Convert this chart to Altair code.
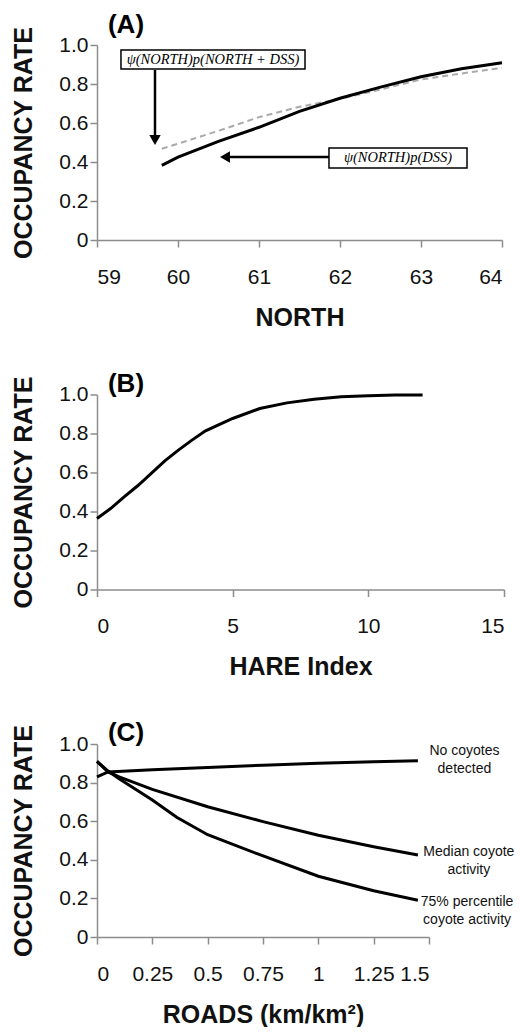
import altair as alt
import pandas as pd

FONT = "Liberation Sans"

# ---------------- data ----------------
# Panel A: NORTH
north_x = [59.8, 60.0, 60.5, 61.0, 61.5, 62.0, 62.5, 63.0, 63.5, 64.0]
north_psi_dss = [0.383, 0.425, 0.506, 0.578, 0.66, 0.727, 0.784, 0.837, 0.878, 0.909]
north_psi_north_dss = [0.468, 0.494, 0.56, 0.63, 0.683, 0.724, 0.772, 0.823, 0.854, 0.883]

box_labels = ["ψ(NORTH)p(NORTH + DSS)", "ψ(NORTH)p(DSS)"]
box_x = [59.296, 61.864]
box_x2 = [61.568, 63.568]
box_y = [0.974, 0.472]
box_y2 = [0.877, 0.369]

arrow_x = [59.716, 60.58]
arrow_x2 = [59.716, 61.864]
arrow_y = [0.872, 0.426]
arrow_y2 = [0.513, 0.426]
arrow_head = ["triangle-down", "triangle-left"]

# Panel B: HARE index
hare_x = [0, 0.5, 1, 1.5, 2, 2.5, 3, 3.5, 4, 5, 6, 7, 8, 9, 10, 11, 12]
hare_y = [0.364, 0.415, 0.475, 0.532, 0.595, 0.66, 0.715, 0.766, 0.814, 0.877,
          0.928, 0.957, 0.976, 0.988, 0.993, 0.997, 0.997]

# Panel C: ROADS
roads_none_x = [0, 0.05, 0.25, 0.5, 0.75, 1.0, 1.25, 1.45]
roads_none_y = [0.83, 0.855, 0.866, 0.878, 0.89, 0.9, 0.908, 0.913]
roads_med_x = [0, 0.05, 0.1, 0.25, 0.5, 0.75, 1.0, 1.25, 1.45]
roads_med_y = [0.91, 0.855, 0.83, 0.765, 0.675, 0.598, 0.527, 0.468, 0.425]
roads_p75_x = [0, 0.05, 0.1, 0.25, 0.36, 0.5, 0.72, 1.0, 1.25, 1.45]
roads_p75_y = [0.91, 0.86, 0.82, 0.71, 0.62, 0.53, 0.433, 0.315, 0.24, 0.19]

c_labels = ["No coyotes", "detected", "Median coyote", "activity",
            "75% percentile", "coyote activity"]
c_label_x = [1.66, 1.66, 1.68, 1.68, 1.672, 1.672]
c_label_y = [0.965, 0.872, 0.44, 0.347, 0.181, 0.087]

y_ticks = [0, 0.2, 0.4, 0.6, 0.8, 1.0]

Y_AXIS = alt.Axis(
    title="OCCUPANCY RATE",
    values=y_ticks,
    labelOverlap=False,
    labelExpr="datum.value == 0 ? '0' : format(datum.value, '.1f')",
)
SY = alt.Scale(domain=[0, 1], nice=False, zero=False)


def y_enc():
    return alt.Y("y:Q", scale=SY, axis=Y_AXIS)


def panel_label(txt, dy):
    return alt.Chart(pd.DataFrame({"t": [txt]})).mark_text(
        font=FONT, fontSize=26, fontWeight="bold", align="center",
        baseline="middle", color="black"
    ).encode(x=alt.value(29), y=alt.value(dy), text="t:N")


# ---------------- panel A ----------------
xa = alt.X("x:Q", scale=alt.Scale(domain=[59, 64], nice=False, zero=False),
           axis=alt.Axis(title="NORTH", values=[59, 60, 61, 62, 63, 64], format="d",
                         labelOverlap=False))
ya = y_enc()

df_dss = pd.DataFrame({"x": north_x, "y": north_psi_dss})
df_nd = pd.DataFrame({"x": north_x, "y": north_psi_north_dss})
df_box = pd.DataFrame({
    "label": box_labels, "x": box_x, "x2": box_x2, "y": box_y, "y2": box_y2,
})
df_box_text = pd.DataFrame({
    "label": box_labels,
    "x": [(a + b) / 2 for a, b in zip(box_x, box_x2)],
    "y": [(a + b) / 2 for a, b in zip(box_y, box_y2)],
})
df_arrow = pd.DataFrame({"x": arrow_x, "x2": arrow_x2, "y": arrow_y, "y2": arrow_y2})
df_head = pd.DataFrame({"x": arrow_x, "y": arrow_y2, "shape": arrow_head})

dashed = alt.Chart(df_nd).mark_line(color="#aaaaaa", strokeWidth=2, strokeDash=[6, 4]).encode(x=xa, y=ya)
solid = alt.Chart(df_dss).mark_line(color="black", strokeWidth=3).encode(x=xa, y=ya)
boxes = alt.Chart(df_box).mark_rect(fill="white", stroke="black", strokeWidth=1.5).encode(
    x=xa, y=ya, x2="x2:Q", y2="y2:Q")
box_text = alt.Chart(df_box_text).mark_text(
    font="Liberation Serif", fontStyle="italic", fontSize=14.5, color="black"
).encode(x=xa, y=ya, text="label:N")
arrows = alt.Chart(df_arrow).mark_rule(color="black", strokeWidth=2.5).encode(
    x=xa, y=ya, x2="x2:Q", y2="y2:Q")
heads = alt.Chart(df_head).mark_point(filled=True, color="black", size=130, opacity=1).encode(
    x=xa, y=ya, shape=alt.Shape("shape:N", scale=None))

panel_a = alt.layer(dashed, solid, arrows, heads, boxes, box_text,
                    panel_label("(A)", -20)).properties(width=405, height=195)

# ---------------- panel B ----------------
xb = alt.X("x:Q", scale=alt.Scale(domain=[0, 15], nice=False, zero=False),
           axis=alt.Axis(title="HARE Index", values=[0, 5, 10, 15], format="d",
                         labelOverlap=False))
df_hare = pd.DataFrame({"x": hare_x, "y": hare_y})
hare_line = alt.Chart(df_hare).mark_line(color="black", strokeWidth=3).encode(x=xb, y=y_enc())
panel_b = alt.layer(hare_line, panel_label("(B)", -11)).properties(width=407, height=195)

# ---------------- panel C ----------------
xc = alt.X("x:Q", scale=alt.Scale(domain=[0, 1.5], nice=False, zero=False),
           axis=alt.Axis(title="ROADS (km/km²)",
                         values=[0, 0.25, 0.5, 0.75, 1.0, 1.25, 1.5],
                         labelOverlap=False,
                         labelExpr="toString(datum.value)"))
yc = y_enc()
df_none = pd.DataFrame({"x": roads_none_x, "y": roads_none_y})
df_med = pd.DataFrame({"x": roads_med_x, "y": roads_med_y})
df_p75 = pd.DataFrame({"x": roads_p75_x, "y": roads_p75_y})
df_clab = pd.DataFrame({"label": c_labels, "x": c_label_x, "y": c_label_y})

l_none = alt.Chart(df_none).mark_line(color="black", strokeWidth=3).encode(x=xc, y=yc)
l_med = alt.Chart(df_med).mark_line(color="black", strokeWidth=3).encode(x=xc, y=yc)
l_p75 = alt.Chart(df_p75).mark_line(color="black", strokeWidth=3).encode(x=xc, y=yc)
c_text = alt.Chart(df_clab).mark_text(font=FONT, fontSize=14, color="#111", align="center",
                                      baseline="middle").encode(x=xc, y=yc, text="label:N")
panel_c = alt.layer(l_none, l_med, l_p75, c_text, panel_label("(C)", -11)).properties(
    width=332, height=193)

chart = alt.vconcat(panel_a, panel_b, panel_c, spacing=154.5, bounds="flush").properties(
    padding={"left": 11, "top": 12, "right": 0, "bottom": 0},
    background="white",
).configure_view(stroke=None).configure_axis(
    grid=False,
    domainColor="#8c8c8c", domainWidth=1.5,
    tickColor="#8c8c8c", tickWidth=1.5, tickSize=7,
    labelFont=FONT, labelFontSize=21, labelColor="#111",
    titleFont=FONT, titleFontSize=25, titleFontWeight="bold", titleColor="#111",
).configure_axisX(labelPadding=19, titlePadding=18).configure_axisY(
    labelPadding=2, titlePadding=22)

chart.save("out.html", embed_options={"renderer": "svg", "actions": False})
